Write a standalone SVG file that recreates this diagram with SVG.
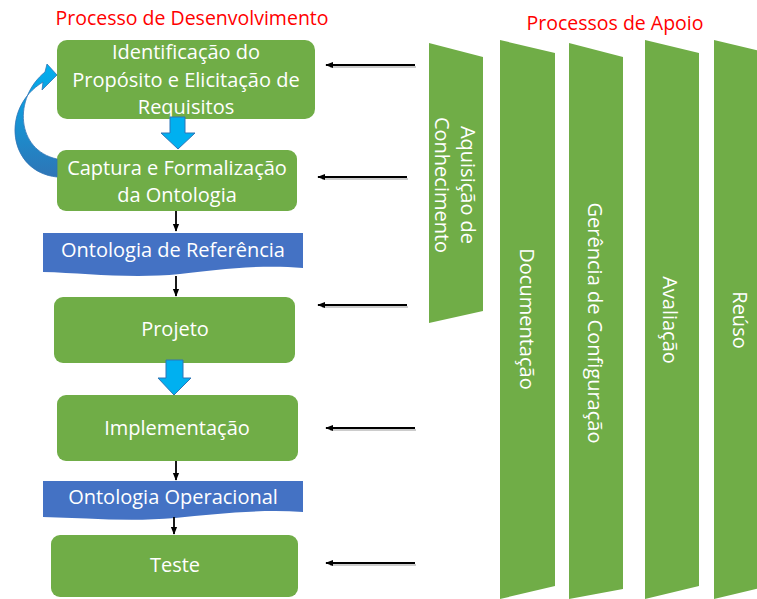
<svg xmlns="http://www.w3.org/2000/svg" width="757" height="599" viewBox="0 0 757 599">
<defs>
<style>
.box{fill:#70AD47;}
.doc{fill:#4472C4;}
.t{font-family:"Open Sans","Liberation Sans",sans-serif;font-size:20px;fill:#FFFFFF;text-anchor:middle;}
.title{font-family:"Open Sans","Liberation Sans",sans-serif;font-size:19.5px;fill:#FF0000;text-anchor:middle;}
.blk{stroke:#000;stroke-width:1.8;fill:none;}
.shd{stroke:#9a9a9a;stroke-width:1.8;fill:none;opacity:0.5;}
.barrow{fill:#00B0F0;stroke:#2E75B6;stroke-width:1;}
</style>
<marker id="ah" viewBox="0 0 10 10" refX="9" refY="5" markerWidth="4.5" markerHeight="4.5" orient="auto" markerUnits="strokeWidth">
<path d="M0,1 L10,5 L0,9 Z" fill="#000"/>
</marker>
<linearGradient id="cg" x1="0" y1="0" x2="0" y2="1">
<stop offset="0" stop-color="#00B0F0"/>
<stop offset="1" stop-color="#2E75B6"/>
</linearGradient>
</defs>
<rect width="757" height="599" fill="#FFFFFF"/>
<text class="title" x="192" y="25">Processo de Desenvolvimento</text>
<text class="title" x="615" y="30">Processos de Apoio</text>

<g id="n1"><rect class="box" x="57" y="40" width="258" height="79" rx="10"/>
<text class="t" x="186" y="59">Identificação do</text>
<text class="t" x="186" y="87">Propósito e Elicitação de</text>
<text class="t" x="186" y="114">Requisitos</text></g>

<g id="n2"><rect class="box" x="57" y="150" width="240" height="61" rx="9"/>
<text class="t" x="177" y="175">Captura e Formalização</text>
<text class="t" x="177" y="202">da Ontologia</text></g>

<g id="n3"><path class="doc" d="M43 233 H303 V268 C260 264,215 270,180 274 C130 279,85 273,43 272 Z"/>
<text class="t" x="173" y="257">Ontologia de Referência</text></g>

<g id="n4"><rect class="box" x="54" y="297" width="241" height="66" rx="9"/>
<text class="t" x="175" y="336">Projeto</text></g>

<g id="n5"><rect class="box" x="57" y="395" width="241" height="66" rx="9"/>
<text class="t" x="177" y="435">Implementação</text></g>

<g id="n6"><path class="doc" d="M43 481 H303 V512 C260 509,215 514,175 518 C130 522,85 518,43 517 Z"/>
<text class="t" x="173" y="504">Ontologia Operacional</text></g>

<g id="n7"><rect class="box" x="51" y="535" width="247" height="62" rx="9"/>
<text class="t" x="175" y="572">Teste</text></g>

<g id="s1"><path class="box" d="M429 43 L483 57 L483 311 L429 323 Z"/>
<text class="t" transform="translate(456,185) rotate(90)"><tspan x="0" y="-5">Aquisição de</tspan><tspan x="0" y="21">Conhecimento</tspan></text></g>

<g id="s2"><path class="box" d="M500 40 L555 53 L555 586 L500 599 Z"/>
<text class="t" transform="translate(527,319) rotate(90)" x="0" y="7">Documentação</text></g>

<g id="s3"><path class="box" d="M569 43 L623 57 L623 589 L569 599 Z"/>
<text class="t" transform="translate(595,323) rotate(90)" x="0" y="7">Gerência de Configuração</text></g>

<g id="s4"><path class="box" d="M645 40 L699 53 L699 586 L645 599 Z"/>
<text class="t" transform="translate(670,320) rotate(90)" x="0" y="7">Avaliação</text></g>

<g id="s5"><path class="box" d="M714 40 L768 53 L768 586 L714 599 Z"/>
<text class="t" transform="translate(740,320) rotate(90)" x="0" y="7">Reúso</text></g>

<g id="connectors">
<path class="barrow" d="M170 117 H185 V133 H195 L178 149 L161 133 H170 Z"/>
<path class="barrow" d="M166 360 H183 V378 H191 L174 395 L158 378 H166 Z"/>
<path d="M57 177 C8 172,0 108,43 82 L42 90 L57 75 L47 64 L45 72 C13 98,16 150,57 159 Z" fill="url(#cg)" stroke="#2E75B6" stroke-width="0.8"/>
<line class="blk" x1="176" y1="211" x2="176" y2="231" marker-end="url(#ah)"/>
<line class="blk" x1="176" y1="276" x2="176" y2="296" marker-end="url(#ah)"/>
<line class="blk" x1="176" y1="461" x2="176" y2="480" marker-end="url(#ah)"/>
<line class="blk" x1="174" y1="517" x2="174" y2="534" marker-end="url(#ah)"/>
<line class="shd" x1="416" y1="67" x2="330" y2="67"/>
<line class="shd" x1="408" y1="179" x2="322" y2="179"/>
<line class="shd" x1="408" y1="307" x2="322" y2="307"/>
<line class="shd" x1="416" y1="430" x2="330" y2="430"/>
<line class="shd" x1="416" y1="565" x2="330" y2="565"/>
<line class="blk" x1="415" y1="65" x2="326" y2="65" marker-end="url(#ah)"/>
<line class="blk" x1="407" y1="177" x2="318" y2="177" marker-end="url(#ah)"/>
<line class="blk" x1="407" y1="305" x2="318" y2="305" marker-end="url(#ah)"/>
<line class="blk" x1="415" y1="428" x2="326" y2="428" marker-end="url(#ah)"/>
<line class="blk" x1="415" y1="563" x2="326" y2="563" marker-end="url(#ah)"/>
</g>
</svg>
